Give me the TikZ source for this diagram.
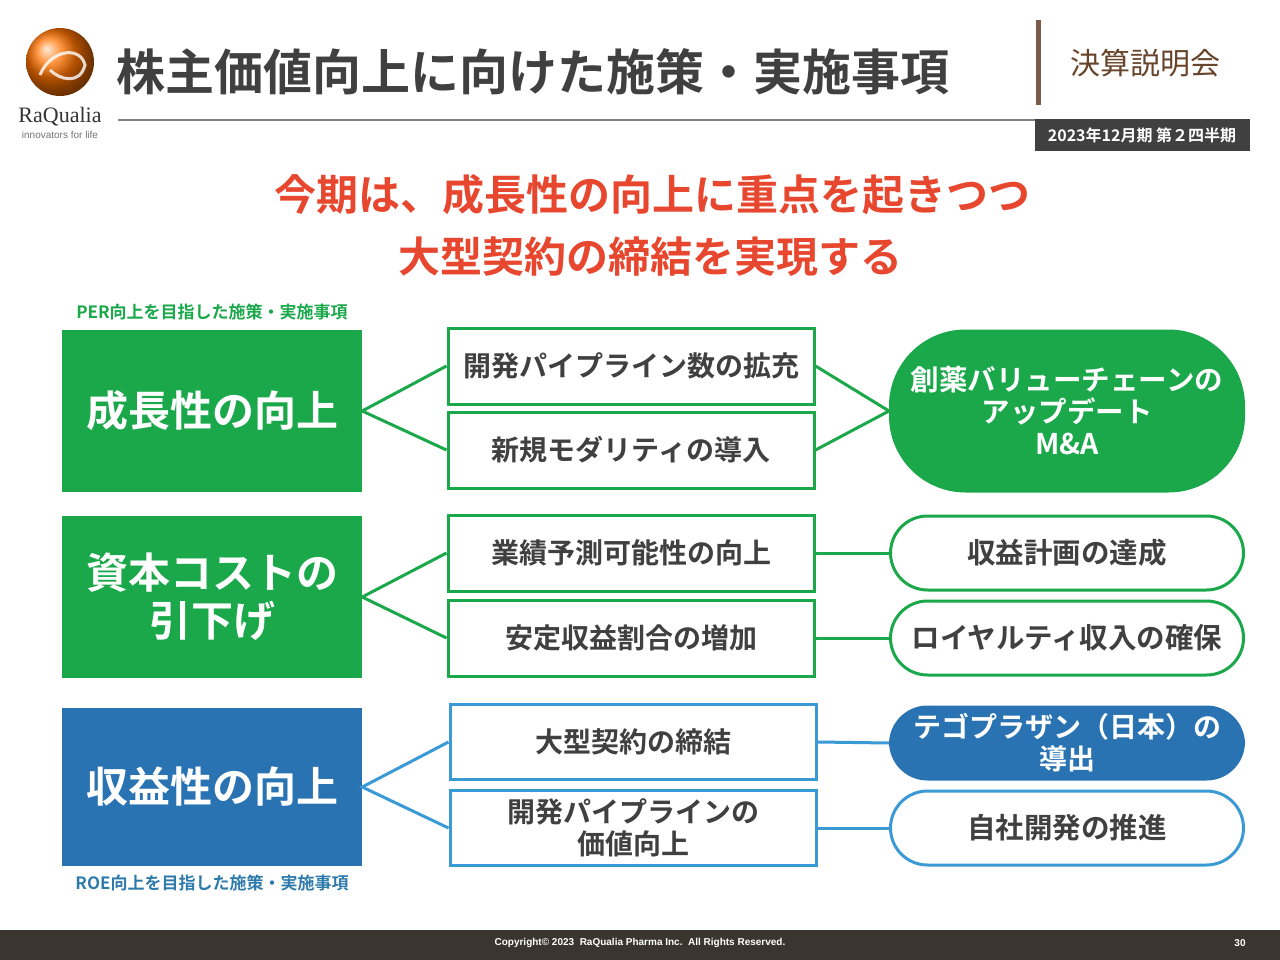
\documentclass[tikz,border=0pt]{standalone}
\usepackage{fontspec}
\setmainfont{Noto Sans CJK JP}[BoldFont={Noto Sans CJK JP Bold}]
\newfontfamily\serifr{Liberation Serif}
\newfontfamily\sansl{Liberation Sans}
\definecolor{gr}{HTML}{1AA84B}
\definecolor{bl}{HTML}{2A73B2}
\definecolor{lb}{HTML}{3A9AD6}
\definecolor{rd}{HTML}{E8472F}
\definecolor{tg}{HTML}{404040}
\definecolor{br}{HTML}{7A5A4A}
\definecolor{ft}{HTML}{3B3530}
\newcommand{\fs}[1]{\fontsize{#1}{\fpeval{1.2*#1}}\selectfont}
\tikzset{
 big/.style={fill=#1,text=white,font=\bfseries\fs{42},align=center,inner sep=0},
 mid/.style={draw=#1,line width=3pt,fill=white,text=tg,font=\bfseries\fs{28},align=center,inner sep=0},
 pill/.style={draw=#1,line width=3pt,rounded corners=37pt,font=\bfseries\fontsize{28.5}{32}\selectfont,align=center,inner sep=0},
 con/.style={draw=#1,line width=3pt},
}
\begin{document}
\begin{tikzpicture}[x=1pt,y=-1pt]
\useasboundingbox (0,0) rectangle (1280,960);
% logo
\shade[ball color=orange!90!red] (60,62) circle (34);
\draw[white,line width=3pt,opacity=.8] (40,75) .. controls (50,50) and (80,45) .. (85,65) .. controls (80,85) and (60,80) .. (50,70);
\node[font=\serifr\fs{22},text=black!80] (rq) at (60,117) {RaQualia};
\node[font=\sansl\fs{10},text=black!55] (inv) at (60,135) {innovators for life};
\node[anchor=west,font=\bfseries\fs{49},text=tg] (title) at (113,72) {株主価値向上に向けた施策・実施事項};
\fill[br] (1036,20) rectangle (1041,105);
\node[font=\fs{30},text=br!80!orange!70!black] (kes) at (1145,63) {決算説明会};
\draw[gray,line width=1.2pt] (118,120) -- (1245,120);
\node[fill=tg,text=white,font=\bfseries\fs{16},minimum width=215pt,minimum height=32pt,inner sep=0] (q) at (1142,135) {2023年12月期 第２四半期};
\node[text=rd,font=\bfseries\fs{42}] (h1) at (652,195) {今期は、成長性の向上に重点を起きつつ};
\node[text=rd,font=\bfseries\fs{42}] (h2) at (650,257) {大型契約の締結を実現する};
\node[text=gr,font=\bfseries\fs{17}] (per) at (212,312) {PER向上を目指した施策・実施事項};
\node[text=lb!80!black,font=\bfseries\fs{17}] (roe) at (212,883) {ROE向上を目指した施策・実施事項};
% left boxes
\node[big=gr,minimum width=300pt,minimum height=162pt] (L1) at (212,411) {成長性の向上};
\node[big=gr,minimum width=300pt,minimum height=162pt,font=\bfseries\fontsize{42}{48}\selectfont] (L2) at (212,597) {資本コストの\\引下げ};
\node[big=bl,minimum width=300pt,minimum height=158pt] (L3) at (212,787) {収益性の向上};
% middle
\node[mid=gr,minimum width=366pt,minimum height=76pt] (M1) at (631,366) {開発パイプライン数の拡充};
\node[mid=gr,minimum width=366pt,minimum height=76pt] (M2) at (631,450) {新規モダリティの導入};
\node[mid=gr,minimum width=366pt,minimum height=76pt] (M3) at (631,553) {業績予測可能性の向上};
\node[mid=gr,minimum width=366pt,minimum height=76pt] (M4) at (631,638) {安定収益割合の増加};
\node[mid=lb,minimum width=366pt,minimum height=75pt] (M5) at (633,742) {大型契約の締結};
\node[mid=lb,minimum width=366pt,minimum height=75pt,font=\bfseries\fontsize{28}{32}\selectfont] (M6) at (633,828) {開発パイプラインの\\価値向上};
% right
\node[pill=gr,fill=gr,text=white,minimum width=353pt,minimum height=160pt,rounded corners=75pt] (R1) at (1067,411) {創薬バリューチェーンの\\アップデート\\M\&A};
\node[pill=gr,fill=white,text=tg,minimum width=353pt,minimum height=74pt] (R2) at (1067,553) {収益計画の達成};
\node[pill=gr,fill=white,text=tg,minimum width=353pt,minimum height=74pt] (R3) at (1067,638) {ロイヤルティ収入の確保};
\node[pill=bl,fill=bl,text=white,minimum width=353pt,minimum height=72pt,font=\bfseries\fontsize{28}{32}\selectfont] (R4) at (1067,743) {テゴプラザン（日本）の\\導出};
\node[pill=lb,fill=white,text=tg,minimum width=353pt,minimum height=74pt] (R5) at (1067,828) {自社開発の推進};
% connectors
\draw[con=gr] (M1.west) -- (L1.east) -- (M2.west);
\draw[con=gr] (M1.east) -- (R1.west) -- (M2.east);
\draw[con=gr] (M3.west) -- (L2.east) -- (M4.west);
\draw[con=gr] (M3.east) -- (R2.west);
\draw[con=gr] (M4.east) -- (R3.west);
\draw[con=lb] (M5.west) -- (L3.east) -- (M6.west);
\draw[con=lb] (M5.east) -- (R4.west);
\draw[con=lb] (M6.east) -- (R5.west);
% footer
\fill[ft] (0,930) rectangle (1280,960);
\node[text=white,font=\sansl\bfseries\fs{10}] (cp) at (640,943) {Copyright© 2023\ \ RaQualia Pharma Inc.\ \ All Rights Reserved.};
\node[text=white,font=\sansl\bfseries\fs{10}] (pg) at (1240,943) {30};
\end{tikzpicture}
\end{document}
